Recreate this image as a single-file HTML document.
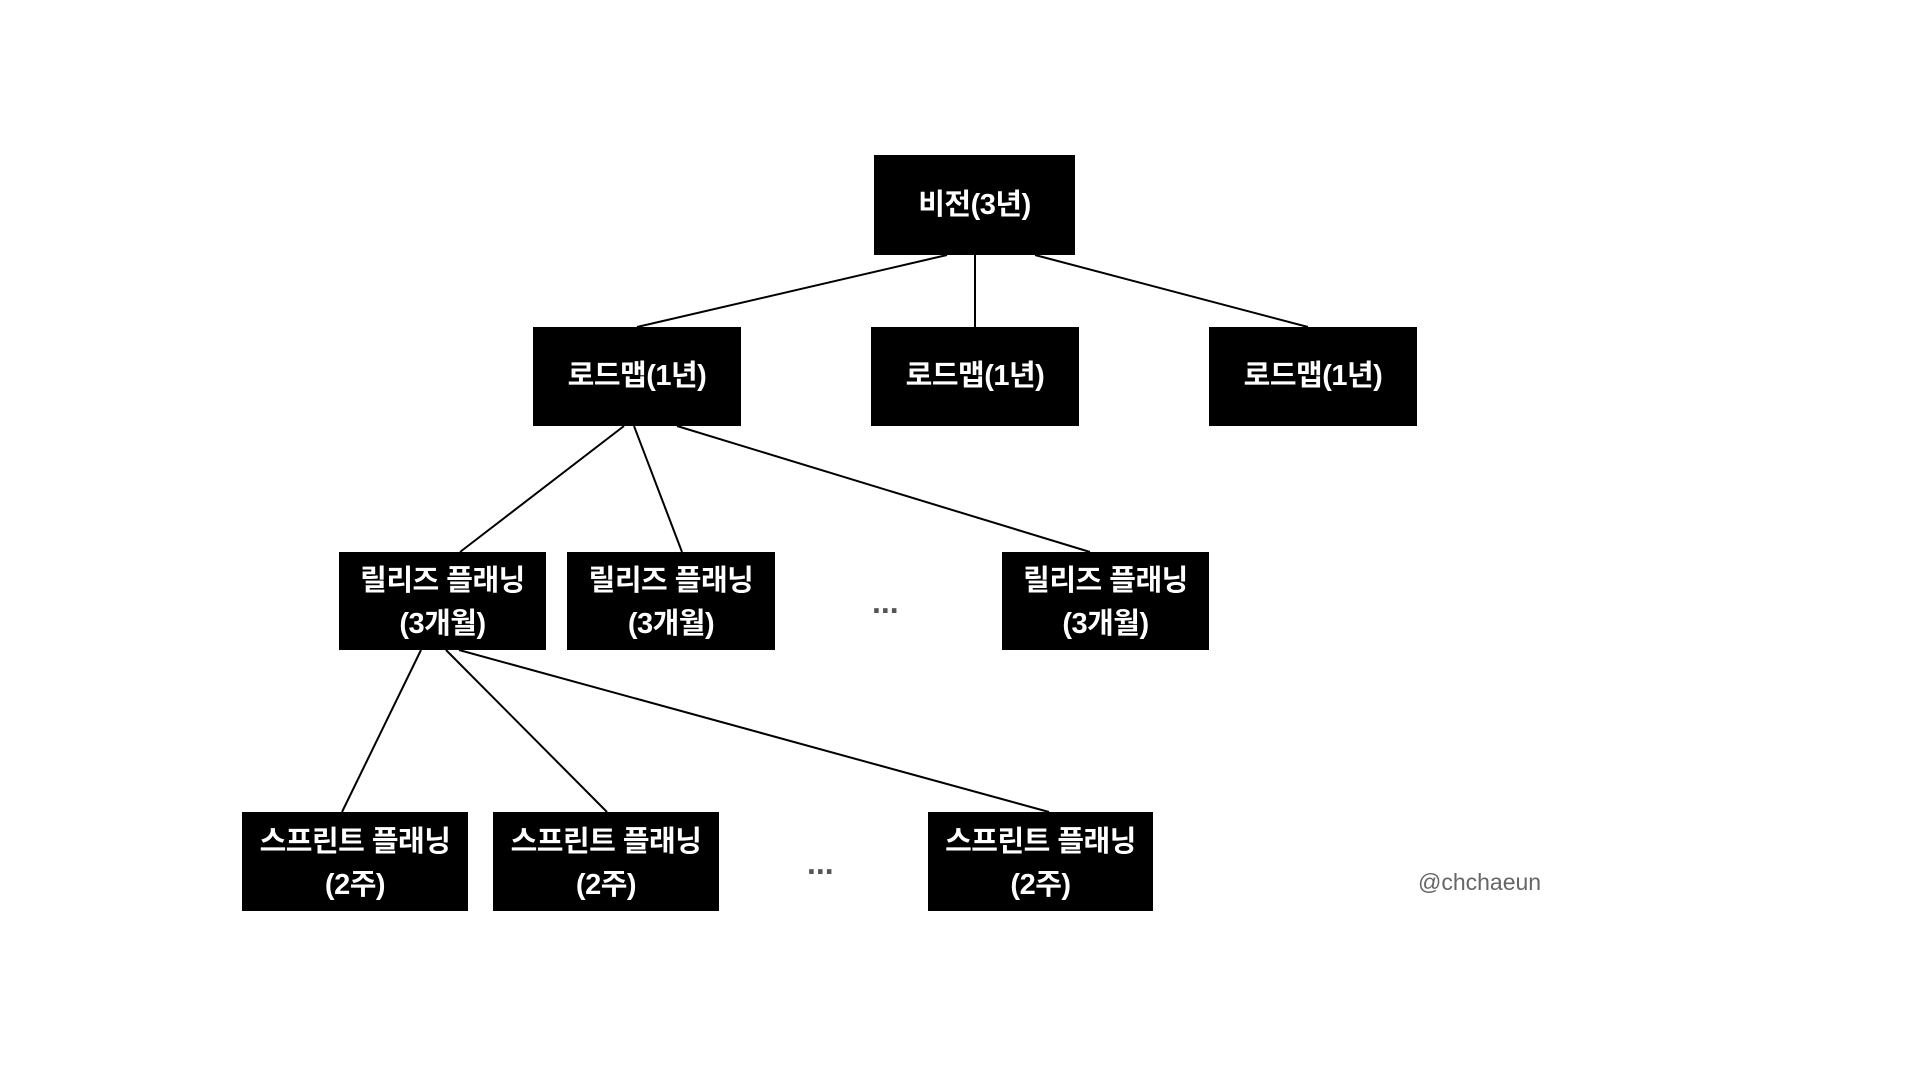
<!DOCTYPE html>
<html><head><meta charset="utf-8"><style>
html,body{margin:0;padding:0;background:#fff;}
body{width:1920px;height:1080px;position:relative;overflow:hidden;font-family:"Liberation Sans","Noto Sans CJK KR",sans-serif;}
.b{position:absolute;background:#000;color:#fff;font-weight:bold;font-size:29px;line-height:43px;display:flex;align-items:center;justify-content:center;text-align:center;letter-spacing:-0.5px;}
.b2{padding-top:4px;box-sizing:border-box;}
.d{position:absolute;color:#555;font-weight:bold;font-size:32px;}
svg{position:absolute;left:0;top:0;}
</style></head><body>
<svg width="1920" height="1080"><g stroke="#000" stroke-width="2">
<line x1="947" y1="255" x2="637" y2="327"/>
<line x1="975" y1="255" x2="975" y2="327"/>
<line x1="1035" y1="255" x2="1308" y2="327"/>
<line x1="624" y1="426" x2="460" y2="552"/>
<line x1="634" y1="426" x2="682" y2="552"/>
<line x1="677" y1="426" x2="1090" y2="552"/>
<line x1="421" y1="650" x2="342" y2="812"/>
<line x1="446" y1="650" x2="607" y2="812"/>
<line x1="459" y1="650" x2="1049" y2="812"/>
</g></svg>
<div class="b" style="left:874px;top:155px;width:201px;height:100px">비전(3년)</div>
<div class="b" style="left:533px;top:327px;width:208px;height:99px">로드맵(1년)</div>
<div class="b" style="left:871px;top:327px;width:208px;height:99px">로드맵(1년)</div>
<div class="b" style="left:1209px;top:327px;width:208px;height:99px">로드맵(1년)</div>
<div class="b b2" style="left:339px;top:552px;width:207px;height:98px">릴리즈 플래닝<br>(3개월)</div>
<div class="b b2" style="left:567px;top:552px;width:208px;height:98px">릴리즈 플래닝<br>(3개월)</div>
<div class="b b2" style="left:1002px;top:552px;width:207px;height:98px">릴리즈 플래닝<br>(3개월)</div>
<div class="b b2" style="left:242px;top:812px;width:226px;height:99px">스프린트 플래닝<br>(2주)</div>
<div class="b b2" style="left:493px;top:812px;width:226px;height:99px">스프린트 플래닝<br>(2주)</div>
<div class="b b2" style="left:928px;top:812px;width:225px;height:99px">스프린트 플래닝<br>(2주)</div>
<div class="d" style="left:872px;top:584px">...</div>
<div class="d" style="left:807px;top:845px">...</div>
<div style="position:absolute;left:1418px;top:869px;font-size:23px;color:#666">@chchaeun</div>
</body></html>
